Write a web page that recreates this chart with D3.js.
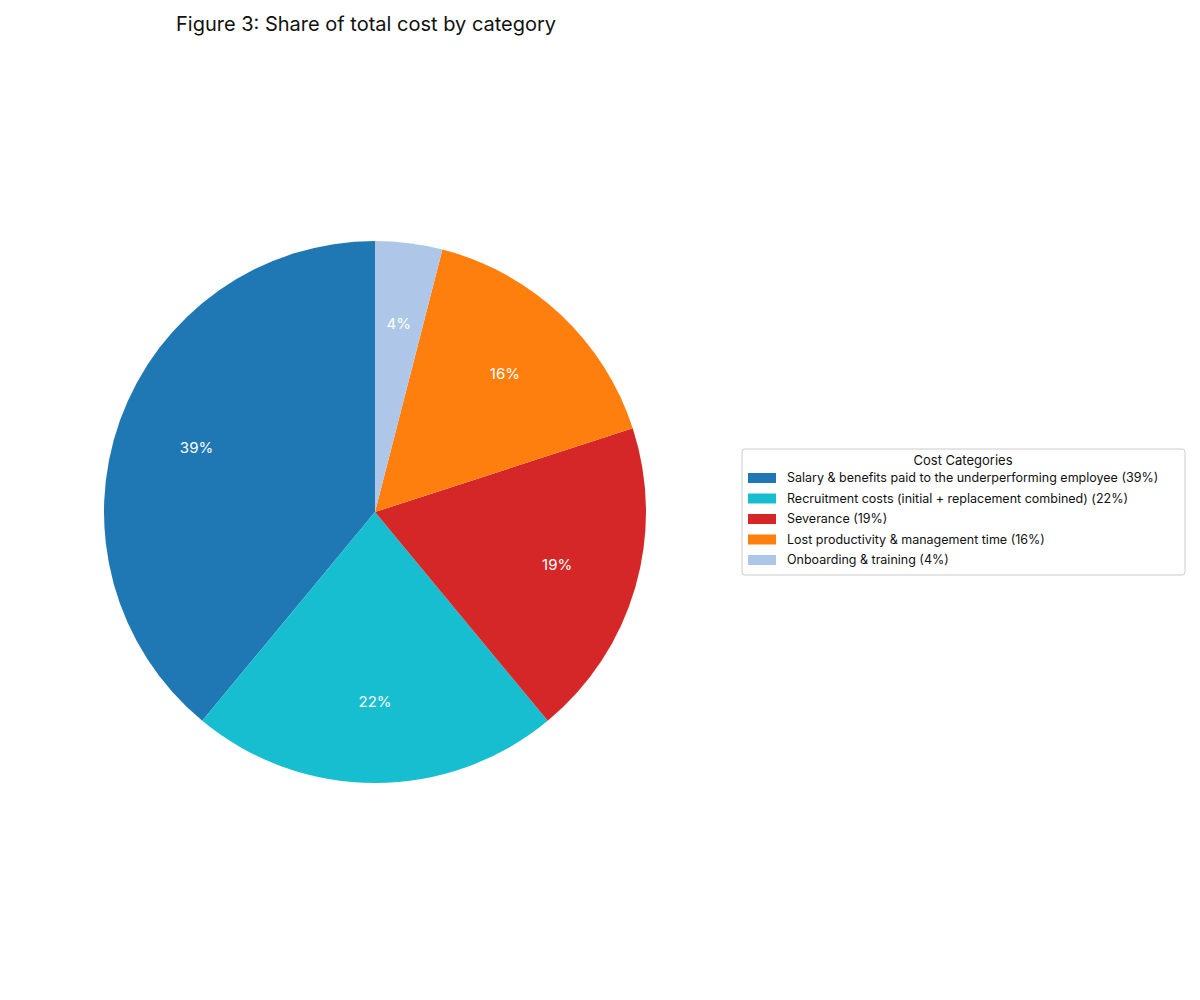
<!DOCTYPE html>
<html>
<head>
<meta charset="utf-8">
<script src="https://cdn.jsdelivr.net/npm/d3@7"></script>
<style>body{margin:0;background:#fff;font-family:Inter,"Open Sans",sans-serif;}</style>
</head>
<body>
<svg id="chart" width="1200" height="1000"></svg>
<script>
var categories = [
  "Salary & benefits paid to the underperforming employee",
  "Recruitment costs (initial + replacement combined)",
  "Severance",
  "Lost productivity & management time",
  "Onboarding & training"
];
var shares = [39, 22, 19, 16, 4];
var colors = ["#1f77b4", "#17becf", "#d62728", "#ff7f0e", "#aec7e8"];

var svg = d3.select("#chart");
var cx = 375, cy = 512, r = 271;

svg.append("text").attr("x", 176).attr("y", 31)
  .attr("font-size", 20).attr("fill", "#111")
  .text("Figure 3: Share of total cost by category");

// matplotlib style: start at top, counterclockwise
var pie = d3.pie().sort(null).value(d => d);
var arcs = pie(shares).map(a => Object.assign({}, a, {startAngle: -a.endAngle, endAngle: -a.startAngle}));
var arc = d3.arc().innerRadius(0).outerRadius(r);
var labelArc = d3.arc().innerRadius(r * 0.7).outerRadius(r * 0.7);

var g = svg.append("g").attr("transform", "translate(" + cx + "," + cy + ")");
g.selectAll("path").data(arcs).enter().append("path")
  .attr("d", arc)
  .attr("fill", (d, i) => colors[i]);

g.selectAll("text").data(arcs).enter().append("text")
  .attr("transform", d => "translate(" + labelArc.centroid(d) + ")")
  .attr("text-anchor", "middle").attr("dy", "0.35em")
  .attr("font-size", 15).attr("fill", "#fff")
  .text(d => d.data + "%");

// legend
var lg = svg.append("g").attr("transform", "translate(742,449)");
lg.append("rect").attr("width", 443).attr("height", 126).attr("rx", 3)
  .attr("fill", "#fff").attr("stroke", "#ccc");
lg.append("text").attr("x", 221).attr("y", 16).attr("text-anchor", "middle")
  .attr("font-size", 13).attr("fill", "#111").text("Cost Categories");
var items = lg.selectAll("g.item").data(categories).enter().append("g")
  .attr("transform", (d, i) => "translate(6," + (24 + i * 20.5) + ")");
items.append("rect").attr("width", 28).attr("height", 10)
  .attr("fill", (d, i) => colors[i]);
items.append("text").attr("x", 39).attr("y", 9).attr("font-size", 12.5).attr("fill", "#111")
  .text((d, i) => d + " (" + shares[i] + "%)");
</script>
</body>
</html>
